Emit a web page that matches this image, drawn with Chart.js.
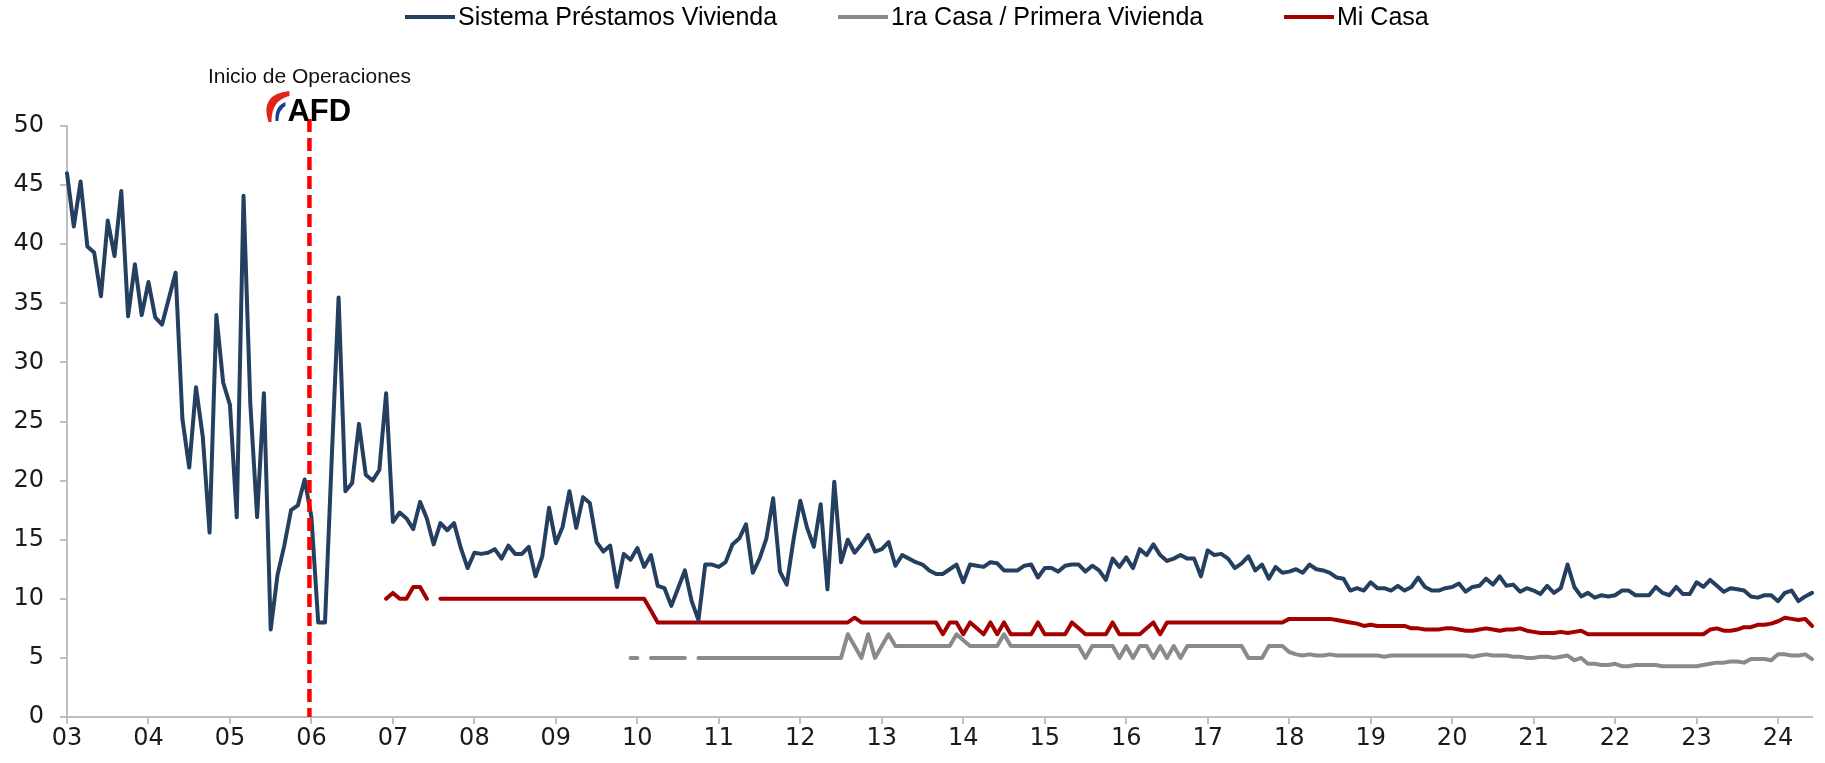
<!DOCTYPE html>
<html>
<head>
<meta charset="utf-8">
<title>Tasas préstamos vivienda</title>
<script src="https://cdn.jsdelivr.net/npm/chart.js@4.4.1/dist/chart.umd.min.js"></script>
<style>
  html, body { margin: 0; padding: 0; background: #fff; }
  canvas { display: block; }
</style>
</head>
<body>
<canvas id="grafico" width="1825" height="763"></canvas>
<script>
// etiquetas del eje x (un tick por año, enero)
const anios = ['03','04','05','06','07','08','09','10','11','12','13','14',
               '15','16','17','18','19','20','21','22','23','24'];
const inicioIdx = 36; // ene-06, inicio de operaciones AFD

// Sistema Préstamos Vivienda (mensual, ene-03 a jun-24)
const sistema = [
  46.0, 41.5, 45.3, 39.8, 39.3, 35.6, 42.0, 39.0, 44.5, 33.9, 38.3, 34.0,
  36.8, 33.8, 33.2, 35.4, 37.6, 25.2, 21.1, 27.9, 23.7, 15.6, 34.0, 28.3,
  26.4, 16.9, 44.1, 26.5, 16.9, 27.4, 7.4, 12.0, 14.5, 17.5, 17.9, 20.1,
  16.9, 8.0, 8.0, 22.0, 35.5, 19.1, 19.8, 24.8, 20.5, 20.0, 20.9, 27.4,
  16.5, 17.3, 16.8, 15.9, 18.2, 16.8, 14.6, 16.4, 15.8, 16.4, 14.3, 12.6,
  13.9, 13.8, 13.9, 14.2, 13.4, 14.5, 13.8, 13.8, 14.4, 11.9, 13.6, 17.7,
  14.7, 16.1, 19.1, 16.0, 18.6, 18.1, 14.8, 14.0, 14.5, 11.0, 13.8, 13.3,
  14.3, 12.7, 13.7, 11.1, 10.9, 9.4, 10.9, 12.4, 9.8, 8.2, 12.9, 12.9,
  12.7, 13.1, 14.6, 15.1, 16.3, 12.2, 13.4, 15.1, 18.5, 12.3, 11.2, 15.0,
  18.3, 16.0, 14.4, 18.0, 10.8, 19.9, 13.1, 15.0, 13.9, 14.6, 15.4, 14.0,
  14.2, 14.8, 12.8, 13.7, 13.4, 13.1, 12.9, 12.4, 12.1, 12.1, 12.5, 12.9,
  11.4, 12.9, 12.8, 12.7, 13.1, 13.0, 12.4, 12.4, 12.4, 12.8, 12.9, 11.8,
  12.6, 12.6, 12.3, 12.8, 12.9, 12.9, 12.3, 12.8, 12.4, 11.6, 13.4, 12.7,
  13.5, 12.6, 14.2, 13.7, 14.6, 13.7, 13.2, 13.4, 13.7, 13.4, 13.4, 11.9,
  14.1, 13.7, 13.8, 13.4, 12.6, 13.0, 13.6, 12.4, 12.9, 11.7, 12.7, 12.2,
  12.3, 12.5, 12.2, 12.9, 12.5, 12.4, 12.2, 11.8, 11.7, 10.7, 10.9, 10.7,
  11.4, 10.9, 10.9, 10.7, 11.1, 10.7, 11.0, 11.8, 11.0, 10.7, 10.7, 10.9,
  11.0, 11.3, 10.6, 11.0, 11.1, 11.7, 11.2, 11.9, 11.1, 11.2, 10.6, 10.9,
  10.7, 10.4, 11.1, 10.5, 10.9, 12.9, 11.0, 10.2, 10.5, 10.1, 10.3, 10.2,
  10.3, 10.7, 10.7, 10.3, 10.3, 10.3, 11.0, 10.5, 10.3, 11.0, 10.4, 10.4,
  11.4, 11.0, 11.6, 11.1, 10.6, 10.9, 10.8, 10.7, 10.2, 10.1, 10.3, 10.3,
  9.8, 10.5, 10.7, 9.8, 10.2, 10.5
];

const sinDato = n => Array(n).fill(null);

// 1ra Casa / Primera Vivienda (desde dic-09)
const primeraVivienda = sinDato(83).concat([
  5,
  5, null, 5, 5, 5, 5, 5, 5, null, 5, 5, 5,
  5, 5, 5, 5, 5, 5, 5, 5, 5, 5, 5, 5,
  5, 5, 5, 5, 5, 5, 5, 7, 6, 5, 7, 5,
  6, 7, 6, 6, 6, 6, 6, 6, 6, 6, 6, 7,
  6.5, 6, 6, 6, 6, 6, 7, 6, 6, 6, 6, 6,
  6, 6, 6, 6, 6, 6, 5, 6, 6, 6, 6, 5,
  6, 5, 6, 6, 5, 6, 5, 6, 5, 6, 6, 6,
  6, 6, 6, 6, 6, 6, 5, 5, 5, 6, 6, 6,
  5.5, 5.3, 5.2, 5.3, 5.2, 5.2, 5.3, 5.2, 5.2, 5.2, 5.2, 5.2,
  5.2, 5.2, 5.1, 5.2, 5.2, 5.2, 5.2, 5.2, 5.2, 5.2, 5.2, 5.2,
  5.2, 5.2, 5.2, 5.1, 5.2, 5.3, 5.2, 5.2, 5.2, 5.1, 5.1, 5.0,
  5.0, 5.1, 5.1, 5.0, 5.1, 5.2, 4.8, 5.0, 4.5, 4.5, 4.4, 4.4,
  4.5, 4.3, 4.3, 4.4, 4.4, 4.4, 4.4, 4.3, 4.3, 4.3, 4.3, 4.3,
  4.3, 4.4, 4.5, 4.6, 4.6, 4.7, 4.7, 4.6, 4.9, 4.9, 4.9, 4.8,
  5.3, 5.3, 5.2, 5.2, 5.3, 4.9
]);

// Mi Casa (desde dic-06)
const miCasa = sinDato(47).concat([
  10,
  10.5, 10, 10, 11, 11, 10, null, 10, 10, 10, 10, 10,
  10, 10, 10, 10, 10, 10, 10, 10, 10, 10, 10, 10,
  10, 10, 10, 10, 10, 10, 10, 10, 10, 10, 10, 10,
  10, 10, 9, 8, 8, 8, 8, 8, 8, 8, 8, 8,
  8, 8, 8, 8, 8, 8, 8, 8, 8, 8, 8, 8,
  8, 8, 8, 8, 8, 8, 8, 8, 8.4, 8, 8, 8,
  8, 8, 8, 8, 8, 8, 8, 8, 8, 7, 8, 8,
  7, 8, 7.5, 7, 8, 7, 8, 7, 7, 7, 7, 8,
  7, 7, 7, 7, 8, 7.5, 7, 7, 7, 7, 8, 7,
  7, 7, 7, 7.5, 8, 7, 8, 8, 8, 8, 8, 8,
  8, 8, 8, 8, 8, 8, 8, 8, 8, 8, 8, 8,
  8.3, 8.3, 8.3, 8.3, 8.3, 8.3, 8.3, 8.2, 8.1, 8.0, 7.9, 7.7,
  7.8, 7.7, 7.7, 7.7, 7.7, 7.7, 7.5, 7.5, 7.4, 7.4, 7.4, 7.5,
  7.5, 7.4, 7.3, 7.3, 7.4, 7.5, 7.4, 7.3, 7.4, 7.4, 7.5, 7.3,
  7.2, 7.1, 7.1, 7.1, 7.2, 7.1, 7.2, 7.3, 7.0, 7.0, 7.0, 7.0,
  7, 7, 7, 7, 7, 7, 7, 7, 7, 7, 7, 7,
  7.0, 7.0, 7.4, 7.5, 7.3, 7.3, 7.4, 7.6, 7.6, 7.8, 7.8, 7.9,
  8.1, 8.4, 8.3, 8.2, 8.3, 7.7
]);

// etiquetas mensuales para el eje de categorías
const meses = sistema.map((v, i) => anios[Math.floor(i / 12)] + '-' + (i % 12 + 1));

const grisEje = '#bfbfbf';
const fuenteEje = { family: '"DejaVu Sans", Verdana, sans-serif', size: 24 };

// Leyenda superior
const leyenda = {
	id: 'leyenda',
	afterDraw(chart) {
		const ctx = chart.ctx;
		const xs = [405, 838, 1284];
		ctx.save();
		ctx.font = '25px "Liberation Sans", Arial, sans-serif';
		ctx.textBaseline = 'middle';
		ctx.textAlign = 'left';
		chart.data.datasets.forEach((ds, i) => {
			ctx.strokeStyle = ds.borderColor;
			ctx.lineWidth = 4;
			ctx.beginPath();
			ctx.moveTo(xs[i], 17);
			ctx.lineTo(xs[i] + 50, 17);
			ctx.stroke();
			ctx.fillStyle = '#000';
			ctx.fillText(ds.label, xs[i] + 53, 18);
		});
		ctx.restore();
	}
};

// Línea de inicio de operaciones + logo AFD
const inicioAFD = {
	id: 'inicioAFD',
	afterDatasetsDraw(chart) {
		const { ctx, chartArea } = chart;
		const px = chart.scales.x.getPixelForValue(inicioIdx) - 2;
		ctx.save();
		ctx.strokeStyle = '#ff0000';
		ctx.lineWidth = 4.5;
		ctx.setLineDash([13, 6]);
		ctx.beginPath();
		ctx.moveTo(px, 119);
		ctx.lineTo(px, chartArea.bottom);
		ctx.stroke();
		ctx.setLineDash([]);

		ctx.fillStyle = '#111';
		ctx.font = '21px "Liberation Sans", Arial, sans-serif';
		ctx.textAlign = 'center';
		ctx.textBaseline = 'middle';
		ctx.fillText('Inicio de Operaciones', px, 77);

		// logo
		const ax = px - 22;
		ctx.fillStyle = '#e2231a';
		ctx.beginPath();
		ctx.moveTo(ax - 19, 122);
		ctx.quadraticCurveTo(ax - 28, 94, ax + 2, 91);
		ctx.lineTo(ax + 2, 96);
		ctx.quadraticCurveTo(ax - 16, 100, ax - 16, 122);
		ctx.closePath();
		ctx.fill();
		ctx.fillStyle = '#1d3f8f';
		ctx.beginPath();
		ctx.moveTo(ax - 12, 121);
		ctx.quadraticCurveTo(ax - 13, 106, ax - 2, 102);
		ctx.lineTo(ax - 2, 106);
		ctx.quadraticCurveTo(ax - 9, 110, ax - 9, 121);
		ctx.closePath();
		ctx.fill();
		ctx.fillStyle = '#000';
		ctx.font = 'bold 31px "Liberation Sans", Arial, sans-serif';
		ctx.textAlign = 'left';
		ctx.textBaseline = 'alphabetic';
		ctx.fillText('AFD', ax, 121);
		ctx.restore();
	}
};

const serie = (label, data, color) => ({
	label: label,
	data: data,
	borderColor: color,
	backgroundColor: color,
	borderWidth: 4,
	pointRadius: 0,
	tension: 0,
	spanGaps: false,
	borderJoinStyle: 'round',
	borderCapStyle: 'round',
});

new Chart(document.getElementById('grafico'), {
	type: 'line',
	data: {
		labels: meses,
		datasets: [
			serie('Sistema Préstamos Vivienda', sistema, '#243f60'),
			serie('1ra Casa / Primera Vivienda', primeraVivienda, '#8a8a8a'),
			serie('Mi Casa', miCasa, '#a50000'),
		],
	},
	options: {
		responsive: false,
		animation: false,
		devicePixelRatio: 1,
		layout: { padding: { left: 0, right: 13, top: 126, bottom: 0 } },
		plugins: {
			legend: { display: false },
			tooltip: { enabled: false },
		},
		scales: {
			x: {
				type: 'category',
				offset: false,
				afterFit: s => { s.height = 46; },
				border: { color: grisEje, width: 2 },
				grid: {
					drawOnChartArea: false,
					tickLength: 7,
					lineWidth: 2,
					color: ctx => (ctx.index % 12 === 0 ? grisEje : 'rgba(0,0,0,0)'),
				},
				ticks: {
					autoSkip: false,
					maxRotation: 0,
					padding: 0,
					color: '#1a1a1a',
					font: fuenteEje,
					callback: (v, i) => (i % 12 === 0 ? anios[i / 12] : ''),
				},
			},
			y: {
				min: 0,
				max: 50,
				afterFit: s => { s.width = 67; },
				border: { color: grisEje, width: 2 },
				grid: { drawOnChartArea: false, tickLength: 7, lineWidth: 2, color: grisEje },
				ticks: { stepSize: 5, padding: 16, color: '#1a1a1a', font: fuenteEje },
			},
		},
	},
	plugins: [leyenda, inicioAFD],
});
</script>
</body>
</html>
